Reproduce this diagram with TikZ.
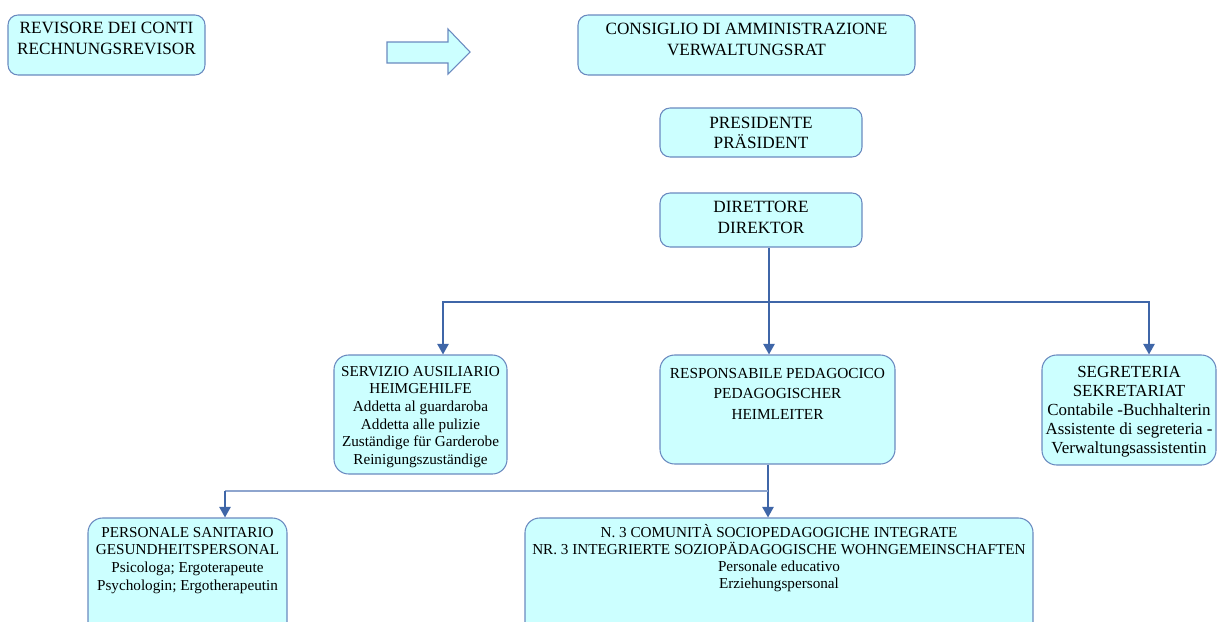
\documentclass[tikz,border=0pt]{standalone}
\usepackage{fontspec}
\setmainfont{Liberation Serif}
\usetikzlibrary{arrows.meta}
\newdimen\pxu \pxu=0.75pt
\definecolor{boxfill}{HTML}{CCFFFF}
\definecolor{boxline}{HTML}{6A8AC0}
\definecolor{arrowc}{HTML}{3F66A8}
\definecolor{lightc}{HTML}{8EA5CE}
\newcommand\bxt[6]{\begin{minipage}[c][#2\pxu][t]{#1\pxu}\centering\fontsize{#4}{#5}\selectfont\rule{0pt}{#3\pxu}#6\end{minipage}}
\tikzset{
  orgbox/.style={draw=boxline, fill=boxfill, rounded corners=7.5pt, inner sep=0pt, line width=0.8pt},
  bigbox/.style={orgbox, rounded corners=11pt},
  conn/.style={draw=arrowc, line width=1.4pt},
  conlight/.style={draw=lightc, line width=1.2pt},
  arr/.style={conn, -{Triangle[width=8.5pt,length=8pt]}}
}
\begin{document}
\begin{tikzpicture}[x=0.75pt,y=-0.75pt]
\useasboundingbox (0,0) rectangle (1217,621);
\clip (0,0) rectangle (1217,621);
% top row
\node[orgbox] (rev) at (106.5,45) {\bxt{197}{60}{18}{12.9pt}{15.75pt}{REVISORE DEI CONTI\\RECHNUNGSREVISOR}};
\draw[draw=boxline, fill=boxfill, line width=0.8pt] (387,42) -- (448,42) -- (448,29) -- (470,52) -- (448,74) -- (448,63) -- (387,63) -- cycle;
\node[orgbox] (cons) at (746.5,45) {\bxt{337}{60}{19}{12.9pt}{15.75pt}{CONSIGLIO DI AMMINISTRAZIONE\\VERWALTUNGSRAT}};
\node[orgbox] (pres) at (761,132.5) {\bxt{202}{49}{20}{12.9pt}{15pt}{PRESIDENTE\\PRÄSIDENT}};
\node[orgbox] (dir) at (761,220) {\bxt{202}{54}{19}{12.9pt}{15.75pt}{DIRETTORE\\DIREKTOR}};
% middle row
\node[bigbox] (serv) at (420.5,414.5) {\bxt{173}{119}{21}{11.4pt}{13.3pt}{SERVIZIO AUSILIARIO\\HEIMGEHILFE\\Addetta al guardaroba\\Addetta alle pulizie\\Zuständige für Garderobe\\Reinigungszuständige}};
\node[bigbox] (resp) at (777.5,409.5) {\bxt{235}{109}{23}{11.5pt}{15.4pt}{RESPONSABILE PEDAGOCICO\\PEDAGOGISCHER\\HEIMLEITER}};
\node[bigbox] (seg) at (1129,410) {\bxt{174}{110}{22}{12.7pt}{14.25pt}{SEGRETERIA\\SEKRETARIAT\\Contabile -Buchhalterin\\Assistente di segreteria -\\Verwaltungsassistentin}};
% bottom row
\node[bigbox] (san) at (187.5,579) {\bxt{199}{122}{19}{11.4pt}{13.3pt}{PERSONALE SANITARIO\\GESUNDHEITSPERSONAL\\Psicologa; Ergoterapeute\\Psychologin; Ergotherapeutin}};
\node[bigbox] (com) at (779,579) {\bxt{508}{122}{19}{11.4pt}{12.75pt}{N. 3 COMUNITÀ SOCIOPEDAGOGICHE INTEGRATE\\NR. 3 INTEGRIERTE SOZIOPÄDAGOGISCHE WOHNGEMEINSCHAFTEN\\Personale educativo\\Erziehungspersonal}};
% connectors
\coordinate (jt) at (769,302);
\coordinate (jl) at (443,302);
\coordinate (jr) at (1149,302);
\draw[conn] (dir.south -| jt) -- (jt);
\draw[arr] (jt) -| (serv.north -| jl);
\draw[arr] (jt) -| (seg.north -| jr);
\draw[arr] (jt) -- (resp.north -| jt);
\coordinate (jb) at (768,491);
\coordinate (jbl) at (225,491);
\draw[arr] (resp.south -| jb) -- (com.north -| jb);
\draw[conlight] (jb) -- (jbl);
\draw[arr] (jbl) -- (san.north -| jbl);
\end{tikzpicture}
\end{document}
